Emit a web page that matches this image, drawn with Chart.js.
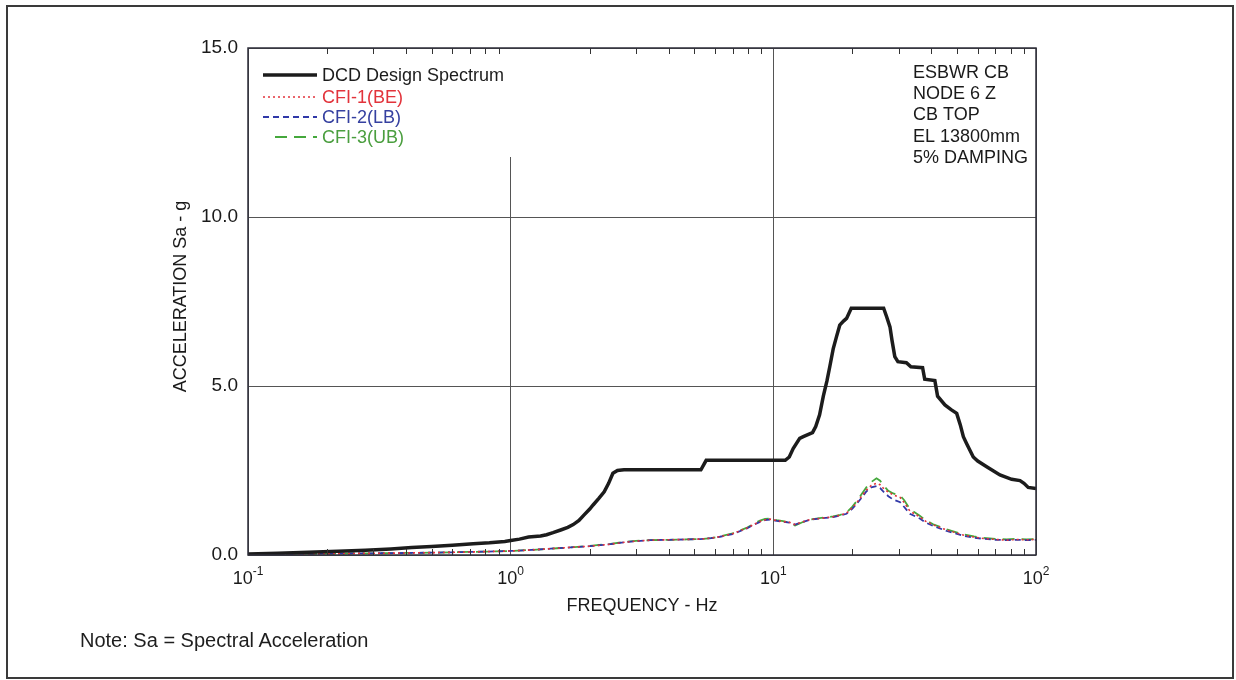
<!DOCTYPE html>
<html>
<head>
<meta charset="utf-8">
<title>ESBWR CB - Node 6 Z Response Spectrum</title>
<script src="https://cdn.jsdelivr.net/npm/chart.js@4.4.1/dist/chart.umd.min.js"></script>
<style>
    html, body { margin: 0; padding: 0; background: #fff; }
    #wrap { position: relative; width: 1236px; height: 680px; overflow: hidden; }
    #wrap canvas { position: absolute; left: 0; top: 0; }
    #frame { position: absolute; left: 6px; top: 5px; width: 1224px; height: 670px; border: 2px solid #3a3a3a; pointer-events: none; }
    #note { position: absolute; left: 80px; top: 629px; font: 20px "Liberation Sans", Arial, sans-serif; color: #1e1e1e; }
</style>
</head>
<body>
<div id="wrap">
    <canvas id="spectrumChart" width="1236" height="680"></canvas>
    <div id="frame"></div>
    <div id="note">Note: Sa = Spectral Acceleration</div>
</div>
<script>
// DCD design spectrum (Hz, g)
const dcdFreq = [0.10, 0.13, 0.17, 0.22, 0.28, 0.35, 0.42, 0.50, 0.60, 0.72, 0.83, 0.95, 1.00, 1.08, 1.17, 1.30,
    1.37, 1.45, 1.55, 1.65, 1.73, 1.82, 1.90, 2.00, 2.06, 2.17, 2.27, 2.36, 2.45, 2.55, 2.70, 5.30, 5.55,
    11.1, 11.5, 11.9, 12.6, 13.0, 14.1, 14.5, 15.0, 15.5, 16.0, 16.4, 16.9, 17.4, 17.9, 18.5, 19.0, 19.8,
    26.3, 27.0, 27.8, 28.3, 29.0, 29.8, 32.1, 33.4, 37.0, 37.7, 41.2, 42.2, 45.0, 47.5, 49.9, 51.5, 52.9,
    54.4, 57.7, 60.0, 64.9, 72.9, 80.8, 86.9, 90.0, 93.4, 100];
const dcdSa = [0.03, 0.05, 0.08, 0.11, 0.14, 0.18, 0.22, 0.25, 0.29, 0.33, 0.36, 0.40, 0.43, 0.47, 0.53, 0.56,
    0.60, 0.66, 0.74, 0.82, 0.90, 1.02, 1.18, 1.36, 1.48, 1.68, 1.87, 2.12, 2.42, 2.50, 2.52, 2.52, 2.80,
    2.80, 2.90, 3.15, 3.45, 3.50, 3.62, 3.80, 4.15, 4.70, 5.15, 5.57, 6.10, 6.46, 6.80, 6.92, 7.00, 7.30,
    7.30, 7.05, 6.75, 6.35, 5.87, 5.72, 5.69, 5.57, 5.54, 5.20, 5.16, 4.70, 4.44, 4.30, 4.19, 3.85, 3.50,
    3.30, 2.90, 2.78, 2.61, 2.37, 2.24, 2.20, 2.12, 2.00, 1.97];

// CFI cases share one frequency grid
const cfiFreq = [0.10, 0.15, 0.20, 0.30, 0.40, 0.50, 0.60, 0.80, 1.00, 1.20, 1.50, 1.80, 2.00, 2.40, 2.74, 3.00,
    3.41, 4.00, 4.67, 5.25, 5.80, 6.26, 7.00, 7.90, 8.40, 8.90, 9.30, 9.70, 10.3, 10.9, 11.5, 12.1, 12.9,
    13.8, 15.0, 16.9, 18.0, 19.0, 20.0, 20.7, 21.6, 22.6, 23.6, 24.7, 25.5, 26.2, 27.4, 28.6, 30.4, 31.5,
    33.1, 36.1, 38.0, 40.6, 45.7, 52.9, 58.0, 63.0, 70.0, 77.3, 85.0, 92.0, 100];
const cfi1Sa = [0.02, 0.03, 0.04, 0.05, 0.06, 0.07, 0.08, 0.10, 0.12, 0.15, 0.20, 0.24, 0.26, 0.32, 0.38, 0.41,
    0.44, 0.45, 0.46, 0.47, 0.50, 0.54, 0.63, 0.79, 0.90, 0.99, 1.04, 1.06, 1.02, 0.99, 0.97, 0.90, 0.98,
    1.05, 1.08, 1.13, 1.18, 1.24, 1.40, 1.53, 1.72, 1.92, 2.06, 2.12, 2.08, 1.98, 1.86, 1.78, 1.70, 1.55,
    1.30, 1.13, 1.00, 0.89, 0.74, 0.59, 0.53, 0.49, 0.46, 0.44, 0.46, 0.45, 0.46];
const cfi2Sa = [0.02, 0.03, 0.04, 0.05, 0.06, 0.07, 0.08, 0.10, 0.12, 0.15, 0.20, 0.24, 0.26, 0.32, 0.38, 0.41,
    0.44, 0.45, 0.46, 0.47, 0.50, 0.54, 0.62, 0.78, 0.89, 0.98, 1.03, 1.05, 1.01, 0.98, 0.96, 0.90, 0.97,
    1.04, 1.08, 1.12, 1.17, 1.22, 1.37, 1.50, 1.68, 1.88, 2.00, 2.04, 1.98, 1.88, 1.74, 1.64, 1.56, 1.42,
    1.22, 1.08, 0.96, 0.86, 0.71, 0.57, 0.51, 0.48, 0.45, 0.44, 0.45, 0.44, 0.45];
const cfi3Sa = [0.02, 0.03, 0.04, 0.05, 0.06, 0.07, 0.08, 0.10, 0.12, 0.15, 0.20, 0.24, 0.27, 0.33, 0.39, 0.42,
    0.44, 0.45, 0.46, 0.47, 0.50, 0.55, 0.64, 0.80, 0.92, 1.02, 1.07, 1.08, 1.03, 1.00, 0.96, 0.87, 0.97,
    1.05, 1.09, 1.14, 1.19, 1.26, 1.43, 1.58, 1.78, 2.00, 2.16, 2.27, 2.20, 2.06, 1.90, 1.82, 1.76, 1.62,
    1.36, 1.16, 1.03, 0.91, 0.76, 0.61, 0.55, 0.51, 0.48, 0.46, 0.48, 0.46, 0.47];

const seriesNames = ['DCD Design Spectrum', 'CFI-1(BE)', 'CFI-2(LB)', 'CFI-3(UB)'];
const xDecades = [0.1, 1, 10, 100];
const xExponents = ['-1', '0', '1', '2'];
const yTicks = [0, 5, 10, 15];
const infoLines = ['ESBWR CB', 'NODE 6 Z', 'CB TOP', 'EL 13800mm', '5% DAMPING'];

const FONT = '"Liberation Sans", Arial, sans-serif';
const TEXT = '#1a1a1a';
const toPoints = (fs, vs) => fs.map((f, i) => ({ x: f, y: vs[i] }));

const datasets = [
    { label: seriesNames[0], data: toPoints(dcdFreq, dcdSa), borderColor: '#1c1c1c', borderWidth: 3.5, borderDash: [], textColor: '#1c1c1c' },
    { label: seriesNames[1], data: toPoints(cfiFreq, cfi1Sa), borderColor: '#e2333b', borderWidth: 1.6, borderDash: [2, 3], textColor: '#e2333b' },
    { label: seriesNames[2], data: toPoints(cfiFreq, cfi2Sa), borderColor: '#3038a8', borderWidth: 1.8, borderDash: [6, 4], textColor: '#3540a0' },
    { label: seriesNames[3], data: toPoints(cfiFreq, cfi3Sa), borderColor: '#45a83c', borderWidth: 1.8, borderDash: [12, 7], textColor: '#4a9e3e' }
];

const decor = {
    id: 'decor',
    afterDatasetsDraw(chart) {
        const { ctx, chartArea: a } = chart;
        ctx.save();
        // legend panel covers the grid in the upper left corner
        ctx.fillStyle = '#fff';
        ctx.fillRect(a.left + 1, a.top + 1, 268, 108);
        const rows = [27, 49, 69, 89];
        ctx.font = '18px ' + FONT;
        ctx.textBaseline = 'middle';
        chart.data.datasets.forEach((ds, i) => {
            const y = a.top + rows[i];
            ctx.strokeStyle = ds.borderColor;
            ctx.lineWidth = ds.borderWidth;
            ctx.setLineDash(ds.borderDash);
            ctx.beginPath();
            ctx.moveTo(i === 3 ? a.left + 27 : a.left + 15, y);
            ctx.lineTo(a.left + 69, y);
            ctx.stroke();
            ctx.setLineDash([]);
            ctx.fillStyle = ds.textColor;
            ctx.fillText(ds.label, a.left + 74, y + 1);
        });
        // run description, upper right
        ctx.fillStyle = TEXT;
        infoLines.forEach((t, i) => ctx.fillText(t, 913, 73 + i * 21.2));
        ctx.restore();
    },
    afterDraw(chart) {
        const { ctx, chartArea: a, scales: { x, y } } = chart;
        ctx.save();
        // minor decade ticks, inside the frame at top and bottom
        ctx.strokeStyle = '#333';
        ctx.lineWidth = 1;
        ctx.beginPath();
        xDecades.slice(0, 3).forEach(d => {
            for (let k = 2; k <= 9; k++) {
                const px = Math.round(x.getPixelForValue(k * d)) + 0.5;
                ctx.moveTo(px, a.bottom); ctx.lineTo(px, a.bottom - 6);
                ctx.moveTo(px, a.top); ctx.lineTo(px, a.top + 6);
            }
        });
        ctx.stroke();
        // plot frame
        ctx.strokeStyle = '#2e2e3a';
        ctx.lineWidth = 1.5;
        ctx.strokeRect(a.left, a.top, a.width, a.height);

        ctx.fillStyle = TEXT;
        // y tick labels
        ctx.font = '19px ' + FONT;
        ctx.textAlign = 'right';
        ctx.textBaseline = 'middle';
        yTicks.forEach(v => ctx.fillText(v.toFixed(1), a.left - 10, y.getPixelForValue(v)));
        // x tick labels as powers of ten
        ctx.textAlign = 'left';
        ctx.textBaseline = 'alphabetic';
        xDecades.forEach((v, i) => {
            ctx.font = '18px ' + FONT;
            const wBase = ctx.measureText('10').width;
            ctx.font = '12px ' + FONT;
            const wExp = ctx.measureText(xExponents[i]).width;
            const left = x.getPixelForValue(v) - (wBase + wExp) / 2;
            ctx.font = '18px ' + FONT;
            ctx.fillText('10', left, a.bottom + 29);
            ctx.font = '12px ' + FONT;
            ctx.fillText(xExponents[i], left + wBase, a.bottom + 20);
        });
        // axis titles
        ctx.font = '18px ' + FONT;
        ctx.textAlign = 'center';
        ctx.textBaseline = 'middle';
        ctx.fillText('FREQUENCY - Hz', (a.left + a.right) / 2, a.bottom + 51);
        ctx.translate(181, (a.top + a.bottom) / 2 - 5);
        ctx.rotate(-Math.PI / 2);
        ctx.fillText('ACCELERATION Sa - g', 0, 0);
        ctx.restore();
    }
};

const ctx = document.getElementById('spectrumChart').getContext('2d');
new Chart(ctx, {
    type: 'line',
    data: { datasets: datasets },
    options: {
        responsive: false,
        animation: false,
        layout: { padding: { left: 248, top: 48, right: 200, bottom: 125 } },
        elements: { point: { radius: 0 }, line: { tension: 0 } },
        plugins: { legend: { display: false }, tooltip: { enabled: false } },
        scales: {
            x: {
                type: 'logarithmic',
                min: 0.1,
                max: 100,
                afterBuildTicks: scale => { scale.ticks = xDecades.map(v => ({ value: v })); },
                ticks: { display: false },
                grid: { color: '#555', lineWidth: 1, drawTicks: false },
                border: { display: false }
            },
            y: {
                min: 0,
                max: 15,
                ticks: { display: false, stepSize: 5 },
                grid: { color: '#555', lineWidth: 1, drawTicks: false },
                border: { display: false }
            }
        }
    },
    plugins: [decor]
});
</script>
</body>
</html>
